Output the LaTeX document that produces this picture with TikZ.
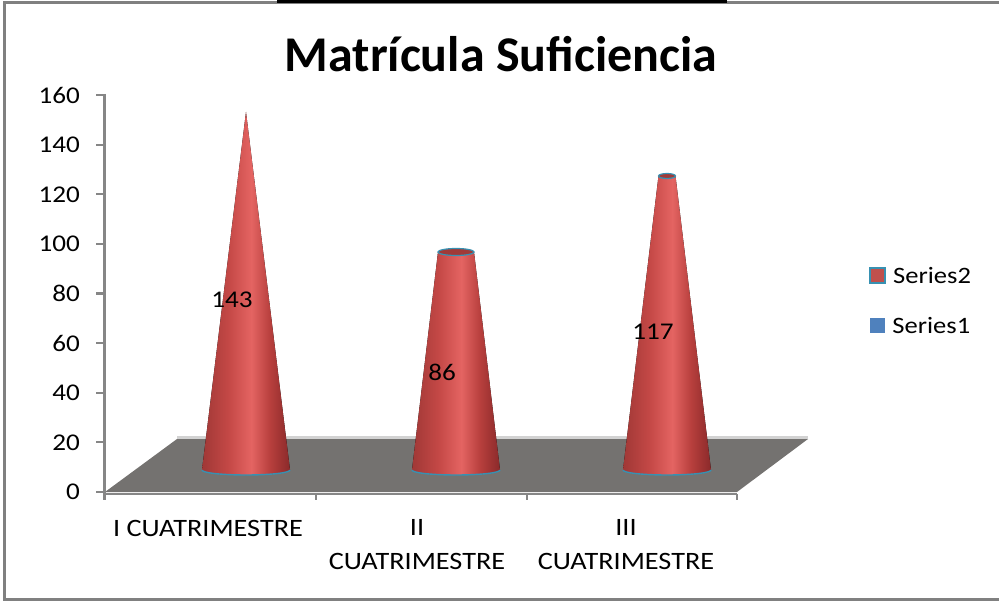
\documentclass[tikz,border=0pt]{standalone}
\usepackage{fontspec}
\setmainfont{Carlito}
\newfontfamily\chartfont[FakeStretch=1.13]{Carlito}
\usetikzlibrary{positioning}
\definecolor{axisgray}{RGB}{134,134,134}
\definecolor{framegray}{RGB}{128,128,128}
\definecolor{floorgray}{RGB}{116,114,112}
\definecolor{floorlight}{RGB}{210,210,210}
\definecolor{rimteal}{RGB}{55,145,178}
\definecolor{series2red}{RGB}{192,80,77}
\definecolor{series1blue}{RGB}{79,129,189}
\definecolor{conetop}{RGB}{160,58,56}
\definecolor{conedark}{RGB}{138,42,42}
\definecolor{coneleft}{RGB}{160,56,54}
\definecolor{conemid}{RGB}{196,72,70}
\definecolor{conelight}{RGB}{228,100,98}
\definecolor{coneright}{RGB}{182,62,60}
\pgfdeclarehorizontalshading{conered}{100bp}{color(0bp)=(coneleft); color(25bp)=(coneleft);
  color(40bp)=(conemid); color(53bp)=(conelight); color(64bp)=(coneright);
  color(75bp)=(conedark); color(100bp)=(conedark)}
\begin{document}
\begin{tikzpicture}[x=1pt,y=-1pt,
  axisline/.style={draw=axisgray,line width=2.2pt},
  ticklabel/.style={font=\chartfont\fontsize{24}{24}\selectfont,anchor=east,inner sep=0pt},
  catlabel/.style={font=\chartfont\fontsize{25}{34}\selectfont,align=center,inner sep=0pt},
  datalabel/.style={font=\chartfont\fontsize{24}{24}\selectfont,inner sep=0pt},
  legendtext/.style={font=\chartfont\fontsize{23.5}{23.5}\selectfont,inner sep=0pt,anchor=west},
  legendbox/.style={minimum size=15pt,inner sep=0pt}]
  \useasboundingbox (0,0) rectangle (999,601);
  % frame
  \draw[framegray,line width=3pt] (999,3) -- (4.5,3) -- (4.5,599) -- (999,599);
  \fill[black] (277,0) rectangle (727,3.5);
  \node[font=\bfseries\fontsize{50}{50}\selectfont,anchor=base,inner sep=0pt] (title) at (501,72) {Matrícula Suficiencia};
  % floor
  \fill[floorgray] (105,492) -- (177,439) -- (808,439) -- (737,492) -- cycle;
  \draw[floorlight,line width=3pt] (177,438) -- (808,438);
  % axes
  \draw[axisline] (104.5,94) -- (104.5,500);
  \draw[axisline] (104.5,494) -- (737,494);
  \foreach \v [count=\i from 0] in {0,20,...,160}
    {\draw[axisline] (96,492-49.6*\i) -- (104.5,492-49.6*\i);
     \node[ticklabel] (tick\v) at (80,492-49.6*\i) {\v};}
  \foreach \x in {316,527,737}
    \draw[axisline] (\x,494) -- (\x,500);
  % cones
  \foreach \cx/\top/\rt/\ry/\lab/\ly in {246/112/0/0/143/300,456/252/18/3.5/86/372,667/176/8.5/2.5/117/332}
    {\fill[shading=conered] (\cx-44,470) -- (\cx-\rt,\top) -- (\cx+\rt,\top) -- (\cx+44,470)
       .. controls (\cx+44,472.8) and (\cx+24.3,475) .. (\cx,475)
       .. controls (\cx-24.3,475) and (\cx-44,472.8) .. (\cx-44,470) -- cycle;
     \draw[rimteal,line width=1.4pt] (\cx-44,470) .. controls (\cx-44,472.8) and (\cx-24.3,475) .. (\cx,475)
       .. controls (\cx+24.3,475) and (\cx+44,472.8) .. (\cx+44,470);
     \ifdim\rt pt>0pt
       \filldraw[fill=conetop,draw=rimteal,line width=1.2pt] (\cx,\top) ellipse[x radius=\rt,y radius=\ry];
     \fi
     \node[datalabel] (val\lab) at (\cx-14,\ly) {\lab};}
  % categories
  \node[catlabel] (cat1) at (208,528) {I CUATRIMESTRE};
  \node[catlabel] (cat2) at (417,545) {II\\CUATRIMESTRE};
  \node[catlabel] (cat3) at (626,545) {III\\CUATRIMESTRE};
  % legend
  \node[legendbox,fill=series2red,draw=rimteal,line width=2pt] (key2) at (877.5,275.5) {};
  \node[legendtext,right=7pt of key2] (ser2) {Series2};
  \node[legendbox,fill=series1blue] (key1) at (877.5,326) {};
  \node[legendtext,right=7pt of key1] (ser1) {Series1};
\end{tikzpicture}
\end{document}
